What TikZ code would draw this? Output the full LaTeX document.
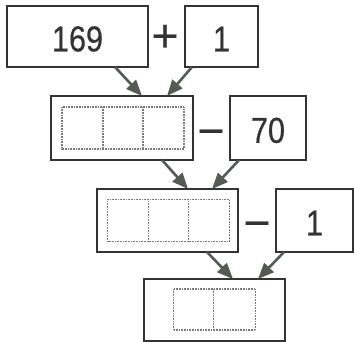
\documentclass[tikz,border=0pt]{standalone}
\usepackage{fontspec}
\usepackage{graphicx}
\setmainfont{Liberation Sans}
\newfontfamily\numfont[FakeBold=0.6]{Liberation Sans}
\newfontfamily\opfont[FakeBold=0.6]{Liberation Sans}
\usetikzlibrary{arrows.meta}
\definecolor{ink}{HTML}{333333}
\definecolor{arrowgray}{HTML}{555A55}
\definecolor{cellgray}{HTML}{7A7A7A}
\newcommand\sqz[1]{\scalebox{0.85}[1]{#1}}
\begin{document}
\begin{tikzpicture}[x=1pt,y=-1pt,
  box/.style={draw=ink,line width=1.4pt,inner sep=0pt,outer sep=0pt,fill=white,
    text=ink,font=\numfont\fontsize{36}{40}\selectfont,text height=30pt},
  op/.style={text=ink,font=\opfont\fontsize{46}{50}\selectfont,inner sep=0pt,anchor=base},
  arr/.style={draw=arrowgray,line width=2.6pt,-{Triangle[length=16pt,width=13pt]}},
  cell/.style={draw=cellgray,line width=1.1pt,dash pattern=on 0.8pt off 0.8pt}]
\useasboundingbox (0,0) rectangle (354,342);
\fill[white] (0,0) rectangle (354,342);
% row 1
\node[box,minimum width=141pt,minimum height=61pt] (a) at (77.5,36.5) {\sqz{169}};
\node[op] (plus) at (165,51.5) {+};
\node[box,minimum width=73pt,minimum height=61pt] (b) at (221.5,36.5) {\sqz{1}};
% row 2
\node[box,minimum width=142pt,minimum height=64pt] (c) at (122,128) {};
\node[op] (minusa) at (211,146.5) {−};
\node[box,minimum width=76pt,minimum height=64pt] (d) at (268,128) {\sqz{70}};
% row 3
\node[box,minimum width=141pt,minimum height=63pt] (e) at (167.5,220.5) {};
\node[op] (minusb) at (257,238.5) {−};
\node[box,minimum width=77pt,minimum height=63pt] (f) at (314.5,220.5) {\sqz{1}};
% row 4
\node[box,minimum width=141pt,minimum height=62pt] (g) at (214.5,310) {};
% cells
\draw[cell] ([shift={(-60,-21)}]c.center) rectangle ([shift={(62,21)}]c.center);
\draw[cell] ([shift={(-19,-21)}]c.center) -- ([shift={(-19,21)}]c.center);
\draw[cell] ([shift={(21,-21)}]c.center) -- ([shift={(21,21)}]c.center);
\draw[cell] ([shift={(-60,-21)}]e.center) rectangle ([shift={(62,21)}]e.center);
\draw[cell] ([shift={(-19,-21)}]e.center) -- ([shift={(-19,21)}]e.center);
\draw[cell] ([shift={(21,-21)}]e.center) -- ([shift={(21,21)}]e.center);
\draw[cell] ([shift={(-41,-21)}]g.center) rectangle ([shift={(41,20)}]g.center);
\draw[cell] ([shift={(-1,-21)}]g.center) -- ([shift={(-1,20)}]g.center);
% arrows
\draw[arr] ([xshift=37.5pt]a.south) -- ([xshift=20pt]c.north);
\draw[arr] ([xshift=-29.5pt]b.south) -- ([xshift=45pt]c.north);
\draw[arr] ([xshift=40pt]c.south) -- ([xshift=20.5pt]e.north);
\draw[arr] ([xshift=-29pt]d.south) -- ([xshift=44.5pt]e.north);
\draw[arr] ([xshift=39.5pt]e.south) -- ([xshift=18.5pt]g.north);
\draw[arr] ([xshift=-30.5pt]f.south) -- ([xshift=43.5pt]g.north);
\end{tikzpicture}
\end{document}
